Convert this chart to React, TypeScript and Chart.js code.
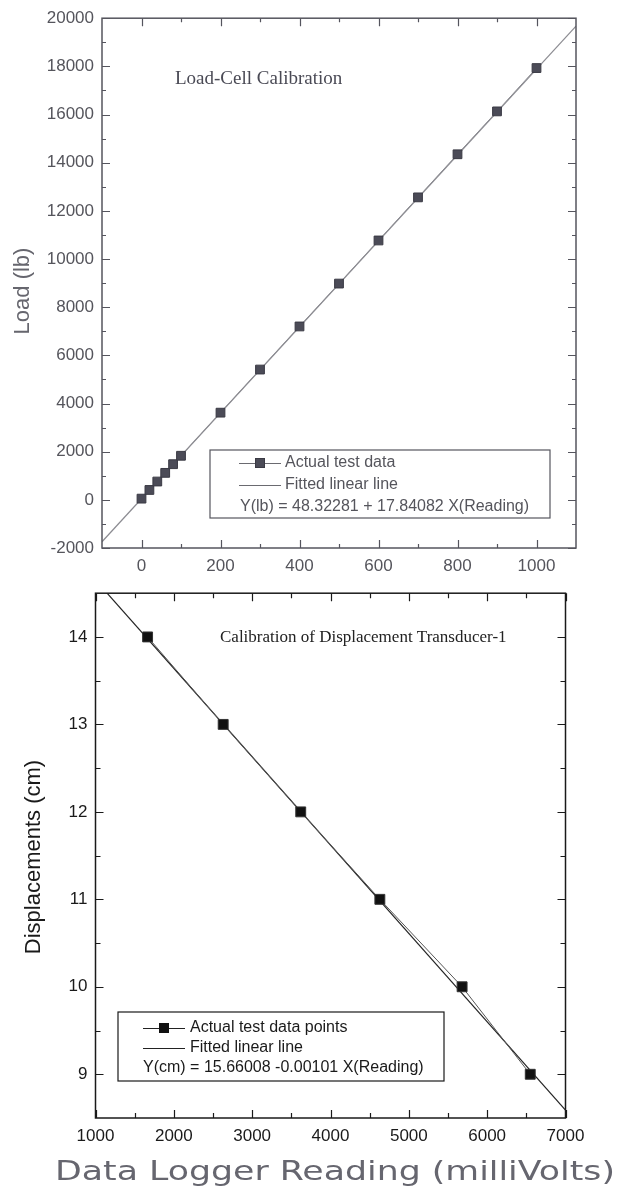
import React, { useEffect, useRef } from "react";
import { Chart, registerables } from "chart.js";

Chart.register(...registerables);
Chart.defaults.font.family = '"Liberation Sans", Arial, sans-serif';

// ---------- Top chart: Load-Cell Calibration ----------
const loadReadings = [0, 20, 40, 60, 80, 100, 200, 300, 400, 500, 600, 700, 800, 900, 1000];
const loadValues = [50, 410, 760, 1120, 1480, 1830, 3620, 5410, 7200, 8980, 10770, 12560, 14350, 16130, 17930];
const loadFitReadings = [-100, 1100];
const loadFitValues = [-1740, 19670];
const loadXTicks = [0, 200, 400, 600, 800, 1000];
const loadXMinor = [100, 300, 500, 700, 900];
const loadYTicks = [-2000, 0, 2000, 4000, 6000, 8000, 10000, 12000, 14000, 16000, 18000, 20000];
const loadYMinor = [-1000, 1000, 3000, 5000, 7000, 9000, 11000, 13000, 15000, 17000, 19000];

// ---------- Bottom chart: Displacement Transducer-1 ----------
const dispReadings = [1665, 2630, 3620, 4630, 5680, 6550];
const dispValues = [14, 13, 12, 11, 10, 9];
const dispFitReadings = [1000, 7000];
const dispFitValues = [14.65, 8.59];
const dispXTicks = [1000, 2000, 3000, 4000, 5000, 6000, 7000];
const dispXMinor = [1500, 2500, 3500, 4500, 5500, 6500];
const dispYTicks = [9, 10, 11, 12, 13, 14];
const dispYMinor = [9.5, 10.5, 11.5, 12.5, 13.5];

type LegendCfg = {
  box: [number, number, number, number];
  rows: [number, number, number];
  symX1: number;
  symX2: number;
  textX: number;
  eqX: number;
  labels: [string, string, string];
  font: string;
  color: string;
  lineColor: string;
  markerFill: string;
  markerStroke: string;
  markerSize: number;
  boxColor: string;
};

type Decor = {
  frameColor: string;
  frameWidth: number;
  tickWidth: number;
  majorLen: number;
  minorLen: number;
  xMajor: number[];
  xMinor: number[];
  yMajor: number[];
  yMinor: number[];
  yTitle: { text: string; x: number; y: number; font: string; color: string };
  note: { text: string; x: number; y: number; font: string; color: string };
  xTitle?: { text: string; x: number; y: number; width: number; font: string; color: string };
  legend: LegendCfg;
};

function drawDecor(chart: any, d: Decor) {
  const { ctx, chartArea: a, scales } = chart;
  const xs = scales.x;
  const ys = scales.y;
  ctx.save();
  ctx.strokeStyle = d.frameColor;
  ctx.lineWidth = d.tickWidth;
  ctx.beginPath();
  const xt = (vals: number[], len: number) => {
    for (const v of vals) {
      const p = Math.round(xs.getPixelForValue(v)) + 0.5;
      ctx.moveTo(p, a.bottom);
      ctx.lineTo(p, a.bottom - len);
      ctx.moveTo(p, a.top);
      ctx.lineTo(p, a.top + len);
    }
  };
  const yt = (vals: number[], len: number) => {
    for (const v of vals) {
      const p = Math.round(ys.getPixelForValue(v)) + 0.5;
      ctx.moveTo(a.left, p);
      ctx.lineTo(a.left + len, p);
      ctx.moveTo(a.right, p);
      ctx.lineTo(a.right - len, p);
    }
  };
  xt(d.xMajor, d.majorLen);
  xt(d.xMinor, d.minorLen);
  yt(d.yMajor, d.majorLen);
  yt(d.yMinor, d.minorLen);
  ctx.stroke();
  ctx.lineWidth = d.frameWidth;
  ctx.strokeRect(a.left, a.top, a.right - a.left, a.bottom - a.top);

  // y title
  ctx.save();
  ctx.translate(d.yTitle.x, d.yTitle.y);
  ctx.rotate(-Math.PI / 2);
  ctx.font = d.yTitle.font;
  ctx.fillStyle = d.yTitle.color;
  ctx.textAlign = "center";
  ctx.textBaseline = "middle";
  ctx.fillText(d.yTitle.text, 0, 0);
  ctx.restore();

  // note
  ctx.font = d.note.font;
  ctx.fillStyle = d.note.color;
  ctx.textAlign = "left";
  ctx.textBaseline = "middle";
  ctx.fillText(d.note.text, d.note.x, d.note.y);

  // x title (stretched to the reference width)
  if (d.xTitle) {
    const t = d.xTitle;
    ctx.save();
    ctx.font = t.font;
    ctx.fillStyle = t.color;
    const w = ctx.measureText(t.text).width;
    ctx.translate(t.x, t.y);
    ctx.scale(t.width / w, 1);
    ctx.textAlign = "center";
    ctx.textBaseline = "middle";
    ctx.fillText(t.text, 0, 0);
    ctx.restore();
  }

  // legend
  const L = d.legend;
  ctx.fillStyle = "#ffffff";
  ctx.fillRect(L.box[0], L.box[1], L.box[2] - L.box[0], L.box[3] - L.box[1]);
  ctx.strokeStyle = L.boxColor;
  ctx.lineWidth = 1.2;
  ctx.strokeRect(L.box[0], L.box[1], L.box[2] - L.box[0], L.box[3] - L.box[1]);
  ctx.strokeStyle = L.lineColor;
  ctx.lineWidth = 1;
  ctx.beginPath();
  ctx.moveTo(L.symX1, L.rows[0] + 0.5);
  ctx.lineTo(L.symX2, L.rows[0] + 0.5);
  ctx.moveTo(L.symX1, L.rows[1] + 0.5);
  ctx.lineTo(L.symX2, L.rows[1] + 0.5);
  ctx.stroke();
  const mx = (L.symX1 + L.symX2) / 2;
  ctx.fillStyle = L.markerFill;
  ctx.strokeStyle = L.markerStroke;
  ctx.fillRect(mx - L.markerSize / 2, L.rows[0] - L.markerSize / 2, L.markerSize, L.markerSize);
  ctx.strokeRect(mx - L.markerSize / 2, L.rows[0] - L.markerSize / 2, L.markerSize, L.markerSize);
  ctx.font = L.font;
  ctx.fillStyle = L.color;
  ctx.textAlign = "left";
  ctx.textBaseline = "middle";
  ctx.fillText(L.labels[0], L.textX, L.rows[0]);
  ctx.fillText(L.labels[1], L.textX, L.rows[1]);
  ctx.fillText(L.labels[2], L.eqX, L.rows[2]);
  ctx.restore();
}

function pts(xs: number[], ys: number[]) {
  return xs.map((x, i) => ({ x, y: ys[i] }));
}

function axis(
  min: number,
  max: number,
  ticks: number[],
  color: string,
  fit: (s: any) => void
) {
  return {
    type: "linear" as const,
    min,
    max,
    grid: { display: false, drawTicks: false },
    border: { display: false },
    ticks: {
      color,
      font: { size: 17 },
      padding: 8,
      autoSkip: false,
      maxRotation: 0,
      callback: (v: any) => String(v),
    },
    afterBuildTicks: (s: any) => {
      s.ticks = ticks.map((v) => ({ value: v }));
    },
    afterFit: fit,
  };
}

function topConfig(): any {
  const decor: Decor = {
    frameColor: "#55555e",
    frameWidth: 1.5,
    tickWidth: 1.2,
    majorLen: 8,
    minorLen: 4,
    xMajor: loadXTicks,
    xMinor: loadXMinor,
    yMajor: loadYTicks,
    yMinor: loadYMinor,
    yTitle: { text: "Load (lb)", x: 23, y: 291, font: '22px "Liberation Sans", Arial, sans-serif', color: "#66666e" },
    note: { text: "Load-Cell Calibration", x: 175, y: 79, font: '19px "Liberation Serif", "Times New Roman", serif', color: "#4a4a55" },
    legend: {
      box: [210, 450, 550, 518],
      rows: [463, 485, 507],
      symX1: 239,
      symX2: 281,
      textX: 285,
      eqX: 240,
      labels: ["Actual test data", "Fitted linear line", "Y(lb) = 48.32281 + 17.84082 X(Reading)"],
      font: '16px "Liberation Sans", Arial, sans-serif',
      color: "#55555c",
      lineColor: "#6a6a70",
      markerFill: "#4b4b57",
      markerStroke: "#3a3a44",
      markerSize: 9,
      boxColor: "#55555e",
    },
  };
  return {
    type: "scatter",
    data: {
      datasets: [
        {
          label: "Fitted linear line",
          data: pts(loadFitReadings, loadFitValues),
          showLine: true,
          borderColor: "#8c8c92",
          borderWidth: 1.2,
          pointRadius: 0,
          order: 2,
        },
        {
          label: "Actual test data",
          data: pts(loadReadings, loadValues),
          showLine: true,
          borderColor: "#8c8c92",
          borderWidth: 1,
          pointStyle: "rect",
          pointRadius: 6.2,
          pointBackgroundColor: "#4b4b57",
          pointBorderColor: "#3a3a44",
          pointBorderWidth: 1,
          order: 1,
        },
      ],
    },
    options: {
      responsive: false,
      animation: false,
      layout: { padding: { left: 0, top: 15, right: 43, bottom: 0 } },
      plugins: { legend: { display: false }, tooltip: { enabled: false }, title: { display: false } },
      scales: {
        x: { ...axis(-100, 1100, loadXTicks, "#55555c", (s: any) => { s.height = 37; }), position: "bottom" },
        y: { ...axis(-2000, 20000, loadYTicks, "#55555c", (s: any) => { s.width = 102; }), position: "left" },
      },
    },
    plugins: [{ id: "decorTop", afterDraw: (c: any) => drawDecor(c, decor) }],
  };
}

function bottomConfig(): any {
  const decor: Decor = {
    frameColor: "#1a1a1a",
    frameWidth: 1.5,
    tickWidth: 1.2,
    majorLen: 8,
    minorLen: 5,
    xMajor: dispXTicks,
    xMinor: dispXMinor,
    yMajor: dispYTicks,
    yMinor: dispYMinor,
    yTitle: { text: "Displacements (cm)", x: 34, y: 282, font: '22px "Liberation Sans", Arial, sans-serif', color: "#1a1a1a" },
    note: { text: "Calibration of Displacement Transducer-1", x: 220, y: 63, font: '17px "Liberation Serif", "Times New Roman", serif', color: "#222222" },
    xTitle: { text: "Data Logger Reading (milliVolts)", x: 335, y: 598, width: 560, font: '27px "DejaVu Sans", Verdana, sans-serif', color: "#66666f" },
    legend: {
      box: [118, 437, 444, 506],
      rows: [453, 473, 493],
      symX1: 143,
      symX2: 185,
      textX: 190,
      eqX: 143,
      labels: ["Actual test data points", "Fitted linear line", "Y(cm) = 15.66008 -0.00101 X(Reading)"],
      font: '16px "Liberation Sans", Arial, sans-serif',
      color: "#1a1a1a",
      lineColor: "#222222",
      markerFill: "#111111",
      markerStroke: "#111111",
      markerSize: 9,
      boxColor: "#1a1a1a",
    },
  };
  return {
    type: "scatter",
    data: {
      datasets: [
        {
          label: "Fitted linear line",
          data: pts(dispFitReadings, dispFitValues),
          showLine: true,
          borderColor: "#222222",
          borderWidth: 1.2,
          pointRadius: 0,
          order: 2,
        },
        {
          label: "Actual test data points",
          data: pts(dispReadings, dispValues),
          showLine: true,
          borderColor: "#555555",
          borderWidth: 1,
          pointStyle: "rect",
          pointRadius: 7,
          pointBackgroundColor: "#111111",
          pointBorderColor: "#333333",
          pointBorderWidth: 1,
          order: 1,
        },
      ],
    },
    options: {
      responsive: false,
      animation: false,
      layout: { padding: { left: 0, top: 15, right: 53.5, bottom: 0 } },
      plugins: { legend: { display: false }, tooltip: { enabled: false }, title: { display: false } },
      scales: {
        x: { ...axis(1000, 7000, dispXTicks, "#1a1a1a", (s: any) => { s.height = 71; }), position: "bottom" },
        y: { ...axis(8.5, 14.5, dispYTicks, "#1a1a1a", (s: any) => { s.width = 95.5; }), position: "left" },
      },
    },
    plugins: [{ id: "decorBottom", afterDraw: (c: any) => drawDecor(c, decor) }],
  };
}

function ChartCanvas({ top, height, make }: { top: number; height: number; make: () => any }) {
  const ref = useRef<HTMLCanvasElement | null>(null);
  useEffect(() => {
    if (!ref.current) return;
    const chart = new Chart(ref.current, make());
    return () => chart.destroy();
  }, [make]);
  return (
    <canvas
      ref={ref}
      width={619}
      height={height}
      style={{ position: "absolute", left: 0, top, width: 619, height }}
    />
  );
}

export default function App() {
  return (
    <div style={{ position: "absolute", left: 0, top: 0, width: 619, height: 1189, background: "#ffffff" }}>
      <ChartCanvas top={0} height={585} make={topConfig} />
      <ChartCanvas top={575} height={614} make={bottomConfig} />
    </div>
  );
}
